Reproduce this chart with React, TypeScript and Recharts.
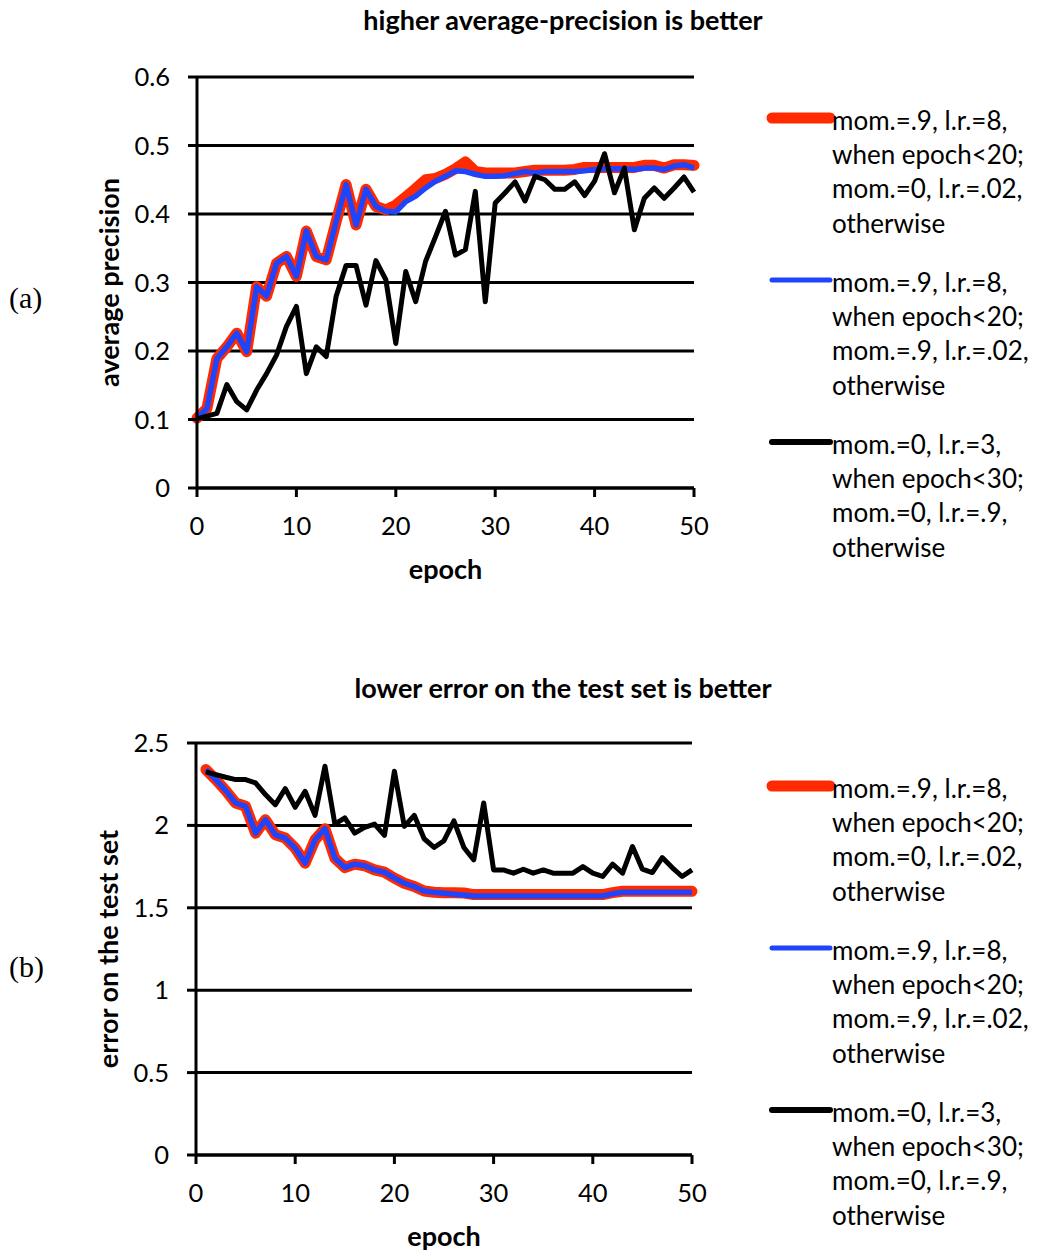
import { LineChart, Line, XAxis, YAxis, CartesianGrid, Legend, Label } from "recharts"

const FONT = "Lato, 'Open Sans', sans-serif"
const RED = "#FF2A00"
const BLUE = "#1F45FC"
const BLACK = "#000000"

// panel (a): average precision, epochs 0..50
const topEpochs = [
  0, 1, 2, 3, 4, 5, 6, 7, 8, 9, 10, 11, 12, 13, 14, 15, 16, 17, 18, 19, 20, 21, 22, 23, 24, 25,
  26, 27, 28, 29, 30, 31, 32, 33, 34, 35, 36, 37, 38, 39, 40, 41, 42, 43, 44, 45, 46, 47, 48, 49, 50,
]
const topRed = [
  0.102, 0.116, 0.189, 0.206, 0.226, 0.199, 0.294, 0.28, 0.328, 0.338, 0.309, 0.375, 0.338, 0.333,
  0.389, 0.443, 0.384, 0.436, 0.411, 0.406, 0.413, 0.425, 0.437, 0.45, 0.452, 0.458, 0.466, 0.476,
  0.462, 0.46, 0.46, 0.46, 0.46, 0.462, 0.464, 0.464, 0.464, 0.464, 0.465, 0.468, 0.468, 0.468,
  0.468, 0.468, 0.468, 0.471, 0.471, 0.467, 0.472, 0.472, 0.471,
]
const topBlue = [
  0.102, 0.116, 0.189, 0.206, 0.226, 0.199, 0.294, 0.28, 0.328, 0.338, 0.309, 0.375, 0.338, 0.333,
  0.389, 0.443, 0.384, 0.436, 0.411, 0.404, 0.403, 0.418, 0.426, 0.438, 0.448, 0.455, 0.463, 0.462,
  0.458, 0.455, 0.455, 0.456, 0.459, 0.462, 0.46, 0.462, 0.462, 0.462, 0.462, 0.463, 0.465, 0.466,
  0.466, 0.466, 0.465, 0.467, 0.467, 0.465, 0.47, 0.472, 0.467,
]
const topBlack = [
  0.101, 0.105, 0.109, 0.151, 0.126, 0.114, 0.143, 0.167, 0.194, 0.236, 0.265, 0.167, 0.206, 0.192,
  0.28, 0.325, 0.325, 0.267, 0.332, 0.304, 0.211, 0.316, 0.272, 0.331, 0.367, 0.404, 0.34, 0.348,
  0.433, 0.272, 0.416, 0.431, 0.447, 0.419, 0.455, 0.45, 0.436, 0.436, 0.447, 0.427, 0.448, 0.488,
  0.431, 0.467, 0.377, 0.423, 0.438, 0.423, 0.438, 0.454, 0.432,
]
const topYTicks = [0, 0.1, 0.2, 0.3, 0.4, 0.5, 0.6]

// panel (b): error on the test set, epochs 1..50
const bottomEpochs = [
  1, 2, 3, 4, 5, 6, 7, 8, 9, 10, 11, 12, 13, 14, 15, 16, 17, 18, 19, 20, 21, 22, 23, 24, 25, 26,
  27, 28, 29, 30, 31, 32, 33, 34, 35, 36, 37, 38, 39, 40, 41, 42, 43, 44, 45, 46, 47, 48, 49, 50,
]
const bottomRed = [
  2.339, 2.278, 2.211, 2.136, 2.116, 1.953, 2.034, 1.943, 1.923, 1.862, 1.771, 1.913, 1.98, 1.801,
  1.744, 1.765, 1.755, 1.73, 1.716, 1.68, 1.649, 1.629, 1.602, 1.594, 1.592, 1.592, 1.59, 1.58,
  1.58, 1.58, 1.58, 1.58, 1.58, 1.58, 1.58, 1.58, 1.58, 1.58, 1.58, 1.58, 1.58, 1.592, 1.6, 1.6,
  1.6, 1.6, 1.6, 1.6, 1.6, 1.6,
]
const bottomBlue = [
  2.339, 2.278, 2.211, 2.136, 2.116, 1.953, 2.034, 1.943, 1.923, 1.862, 1.771, 1.913, 1.98, 1.801,
  1.744, 1.765, 1.755, 1.73, 1.716, 1.68, 1.649, 1.629, 1.602, 1.594, 1.588, 1.582, 1.578, 1.572,
  1.572, 1.572, 1.572, 1.572, 1.572, 1.572, 1.572, 1.572, 1.572, 1.572, 1.572, 1.572, 1.572, 1.585,
  1.595, 1.595, 1.595, 1.595, 1.595, 1.595, 1.595, 1.595,
]
const bottomBlack = [
  2.325, 2.308, 2.292, 2.278, 2.278, 2.258, 2.187, 2.126, 2.223, 2.11, 2.207, 2.061, 2.359, 2.008,
  2.045, 1.953, 1.988, 2.008, 1.939, 2.329, 1.994, 2.061, 1.919, 1.866, 1.907, 2.028, 1.866, 1.791,
  2.136, 1.73, 1.73, 1.71, 1.734, 1.71, 1.73, 1.71, 1.71, 1.71, 1.75, 1.71, 1.69, 1.765, 1.71,
  1.872, 1.734, 1.714, 1.805, 1.744, 1.69, 1.73,
]
const bottomYTicks = [0, 0.5, 1, 1.5, 2, 2.5]

const xTicks = [0, 10, 20, 30, 40, 50]

const legendLabels = [
  ["mom.=.9, l.r.=8,", "when epoch<20;", "mom.=0, l.r.=.02,", "otherwise"],
  ["mom.=.9, l.r.=8,", "when epoch<20;", "mom.=.9, l.r.=.02,", "otherwise"],
  ["mom.=0, l.r.=3,", "when epoch<30;", "mom.=0, l.r.=.9,", "otherwise"],
]
const legendColors = [RED, BLUE, BLACK]
const legendWidths = [11, 5, 6]

const buildRows = (epochs: number[], red: number[], blue: number[], black: number[]) =>
  epochs.map((epoch, i) => ({ epoch, red: red[i], blue: blue[i], black: black[i] }))

const LINE_H = 34.3
const ENTRY_GAP = 162

function LegendBlock() {
  return (
    <div style={{ position: "relative", width: 284, height: 3 * ENTRY_GAP, fontFamily: FONT, fontSize: 26, color: "#000" }}>
      {legendLabels.map((lines, i) => (
        <div key={i} style={{ position: "absolute", left: 0, top: i * ENTRY_GAP }}>
          <svg width={70} height={20} style={{ position: "absolute", left: 6, top: LINE_H / 2 - 12 }}>
            <line x1={6} x2={64} y1={10} y2={10} stroke={legendColors[i]} strokeWidth={legendWidths[i]} strokeLinecap="round" />
          </svg>
          {lines.map((t, j) => (
            <div key={j} style={{ position: "absolute", left: 72, top: j * LINE_H, height: LINE_H, lineHeight: `${LINE_H}px`, whiteSpace: "nowrap" }}>
              {t}
            </div>
          ))}
        </div>
      ))}
    </div>
  )
}

interface PanelProps {
  top: number
  height: number
  title: string
  titleY: number
  tag: string
  tagY: number
  yLabel: string
  yTicks: number[]
  rows: { epoch: number; red: number; blue: number; black: number }[]
  plotTop: number
  plotBottom: number
  plotLeft: number
  plotRight: number
  legendY: number
}

const yTicksMin = (t: number[]) => t[0]
const yTicksMax = (t: number[]) => t[t.length - 1]

function Panel(p: PanelProps) {
  const tickStyle = { fill: "#000", fontSize: 25.5, fontFamily: FONT }
  const labelStyle = { fill: "#000", fontSize: 27, fontFamily: FONT, fontWeight: 700 }
  const axisStroke = { stroke: "#000", strokeWidth: 3 }
  const xAxisH = 95
  const yAxisW = 90
  return (
    <div style={{ position: "absolute", left: 0, top: p.top, width: 1044, height: p.height }}>
      <div style={{ position: "absolute", left: 263, width: 600, top: p.titleY - 16, textAlign: "center", fontFamily: FONT, fontWeight: 700, fontSize: 27, lineHeight: "32px" }}>
        {p.title}
      </div>
      <div style={{ position: "absolute", left: 9, top: p.tagY - 18, fontFamily: "'Liberation Serif', serif", fontSize: 30, lineHeight: "36px" }}>
        {p.tag}
      </div>
      <LineChart
        width={1044}
        height={p.height}
        data={p.rows}
        margin={{ top: p.plotTop, right: 1044 - p.plotRight, bottom: p.height - p.plotBottom - xAxisH, left: p.plotLeft - yAxisW }}
      >
        <CartesianGrid vertical={false} stroke="#000" strokeWidth={3} strokeOpacity={1} />
        <XAxis
          dataKey="epoch"
          type="number"
          domain={[0, 50]}
          ticks={xTicks}
          interval={0}
          height={xAxisH}
          tickSize={9}
          tickMargin={20}
          axisLine={axisStroke}
          tickLine={axisStroke}
          tick={tickStyle}
        >
          <Label value="epoch" position="insideBottom" offset={4} style={labelStyle} />
        </XAxis>
        <YAxis
          type="number"
          domain={[yTicksMin(p.yTicks), yTicksMax(p.yTicks)]}
          ticks={p.yTicks}
          interval={0}
          width={yAxisW}
          tickSize={9}
          tickMargin={18}
          axisLine={axisStroke}
          tickLine={axisStroke}
          tick={tickStyle}
        >
          <Label value={p.yLabel} angle={-90} position="insideLeft" offset={2} style={{ ...labelStyle, textAnchor: "middle" }} />
        </YAxis>
        <Legend
          layout="vertical"
          align="center"
          verticalAlign="middle"
          wrapperStyle={{ left: 760, top: p.legendY - LINE_H / 2, width: 284 }}
          content={() => <LegendBlock />}
        />
        <Line dataKey="red" stroke={RED} strokeWidth={11} dot={false} strokeLinejoin="round" strokeLinecap="round" isAnimationActive={false} />
        <Line dataKey="blue" stroke={BLUE} strokeWidth={5.5} dot={false} strokeLinejoin="round" isAnimationActive={false} />
        <Line dataKey="black" stroke={BLACK} strokeWidth={5} dot={false} strokeLinejoin="round" isAnimationActive={false} />
      </LineChart>
    </div>
  )
}

export default function App() {
  return (
    <div style={{ position: "absolute", left: 0, top: 0, width: 1044, height: 1253, background: "#fff" }}>
      <Panel
        top={0}
        height={620}
        title="higher average-precision is better"
        titleY={20}
        tag="(a)"
        tagY={298}
        yLabel="average precision"
        yTicks={topYTicks}
        rows={buildRows(topEpochs, topRed, topBlue, topBlack)}
        plotTop={77}
        plotBottom={488}
        plotLeft={197}
        plotRight={694}
        legendY={120}
      />
      <Panel
        top={660}
        height={593}
        title="lower error on the test set is better"
        titleY={28}
        tag="(b)"
        tagY={307}
        yLabel="error on the test set"
        yTicks={bottomYTicks}
        rows={buildRows(bottomEpochs, bottomRed, bottomBlue, bottomBlack)}
        plotTop={83}
        plotBottom={495}
        plotLeft={196}
        plotRight={692}
        legendY={128}
      />
    </div>
  )
}
